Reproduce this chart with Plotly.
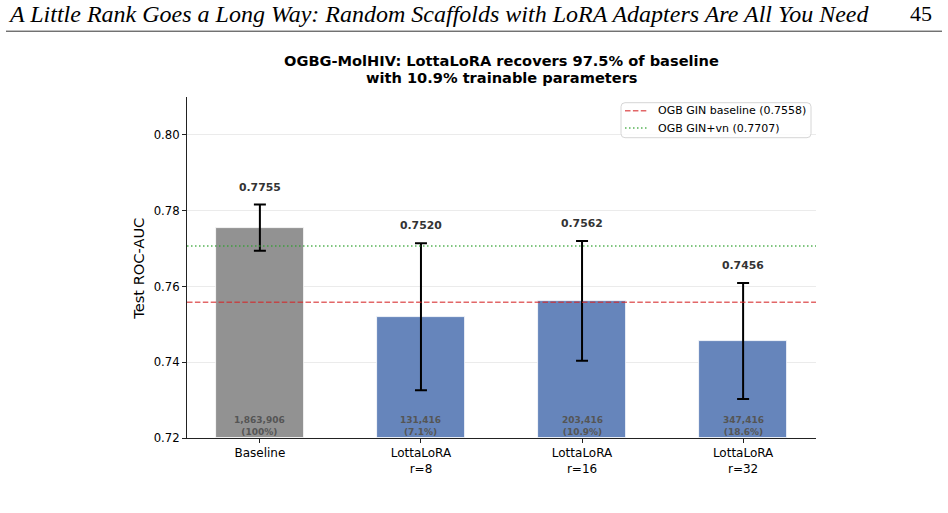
import plotly.graph_objects as go

# ---- data ----
categories = ["Baseline", "LottaLoRA<br>r=8", "LottaLoRA<br>r=16", "LottaLoRA<br>r=32"]
auc_mean = [0.7755, 0.7520, 0.7562, 0.7456]
auc_std = [0.0061, 0.0194, 0.0158, 0.0153]
param_counts = ["1,863,906", "131,416", "203,416", "347,416"]
param_pct = ["(100%)", "(7.1%)", "(10.9%)", "(18.6%)"]
bar_colors = ["#929292", "#6685bb", "#6685bb", "#6685bb"]
ref_names = ["OGB GIN baseline (0.7558)", "OGB GIN+vn (0.7707)"]
ref_values = [0.7558, 0.7707]
y_ticks = [0.72, 0.74, 0.76, 0.78, 0.80]

W, H = 948, 513
L, R, T, B = 187, 816, 97.3, 438.3


def px_x(px):
    return (px - L) / (R - L)


def px_y(py):
    return (B - py) / (B - T)


xs = list(range(len(categories)))
red = "rgba(214,39,40,0.7)"
green = "rgba(44,160,44,0.8)"
red_dash = "5.5px,2.4px"
green_dash = "1.5px,2.5px"

fig = go.Figure()
fig.add_trace(go.Bar(
    x=xs, y=[m - 0.72 for m in auc_mean], base=0.72, width=0.55,
    marker=dict(color=bar_colors, line=dict(color="white", width=0.8)),
    error_y=dict(type="data", array=auc_std, color="black", thickness=2, width=6),
    showlegend=False, hoverinfo="skip",
))

# legend box (drawn manually, matplotlib-like)
lx0, lx1, ly0, ly1, rr = px_x(621), px_x(811), px_y(103), px_y(138), 4
rxp = rr / (R - L)
ryp = rr / (B - T)
legend_path = (
    f"M {lx0 + rxp},{ly0} L {lx1 - rxp},{ly0} Q {lx1},{ly0} {lx1},{ly0 - ryp} "
    f"L {lx1},{ly1 + ryp} Q {lx1},{ly1} {lx1 - rxp},{ly1} "
    f"L {lx0 + rxp},{ly1} Q {lx0},{ly1} {lx0},{ly1 + ryp} "
    f"L {lx0},{ly0 - ryp} Q {lx0},{ly0} {lx0 + rxp},{ly0} Z"
)

legend_rows_y = [111, 128.3]
legend_styles = [(red, red_dash), (green, green_dash)]

shapes = [
    dict(type="line", xref="paper", yref="y", x0=0, x1=1, y0=ref_values[0], y1=ref_values[0],
         line=dict(color=red, width=1.5, dash=red_dash), layer="above"),
    dict(type="line", xref="paper", yref="y", x0=0, x1=1, y0=ref_values[1], y1=ref_values[1],
         line=dict(color=green, width=1.5, dash=green_dash), layer="above"),
    dict(type="path", xref="paper", yref="paper", path=legend_path,
         fillcolor="rgba(255,255,255,0.85)", line=dict(color="#d6d6d6", width=1), layer="above"),
    # page header rule
    dict(type="line", xref="paper", yref="paper", x0=px_x(6), x1=px_x(942), y0=px_y(31.5), y1=px_y(31.5),
         line=dict(color="#333333", width=1)),
]
for (c, d), yy in zip(legend_styles, legend_rows_y):
    shapes.append(dict(type="line", xref="paper", yref="paper", x0=px_x(625), x1=px_x(647),
                       y0=px_y(yy), y1=px_y(yy), line=dict(color=c, width=1.5, dash=d), layer="above"))

annotations = []
for name, yy in zip(ref_names, legend_rows_y):
    annotations.append(dict(x=px_x(656), y=px_y(yy), xref="paper", yref="paper", text=name,
                            showarrow=False, xanchor="left", yanchor="middle",
                            font=dict(family="DejaVu Sans", size=11, color="black")))

for i, (m, s) in enumerate(zip(auc_mean, auc_std)):
    annotations.append(dict(x=i, y=m + s, xref="x", yref="y", text=f"<b>{m:.4f}</b>",
                            showarrow=False, yanchor="bottom", yshift=9,
                            font=dict(family="DejaVu Sans", size=10.8, color="#333333")))
    annotations.append(dict(x=i, y=0.72, xref="x", yref="y",
                            text=f"<b>{param_counts[i]}<br>{param_pct[i]}</b>",
                            showarrow=False, yanchor="bottom", yshift=-1,
                            font=dict(family="DejaVu Sans", size=9, color="#555555")))

# title
annotations.append(dict(x=px_x(501.5), y=px_y(61), xref="paper", yref="paper",
                        text="<b>OGBG-MolHIV: LottaLoRA recovers 97.5% of baseline</b>",
                        showarrow=False, xanchor="center", yanchor="middle",
                        font=dict(family="DejaVu Sans", size=14.6, color="black")))
annotations.append(dict(x=px_x(501.5), y=px_y(77.5), xref="paper", yref="paper",
                        text="<b>with 10.9% trainable parameters</b>",
                        showarrow=False, xanchor="center", yanchor="middle",
                        font=dict(family="DejaVu Sans", size=14.6, color="black")))
# y axis title
annotations.append(dict(x=px_x(139), y=px_y(269), xref="paper", yref="paper",
                        text="Test ROC-AUC", textangle=-90, showarrow=False,
                        xanchor="center", yanchor="middle",
                        font=dict(family="DejaVu Sans", size=14.6, color="black")))
# page header
annotations.append(dict(x=px_x(6), y=px_y(14), xref="paper", yref="paper",
                        text="<i>A Little Rank Goes a Long Way: Random Scaffolds with LoRA Adapters Are All You Need</i>",
                        showarrow=False, xanchor="left", yanchor="middle",
                        font=dict(family="Liberation Serif", size=24, color="black")))
annotations.append(dict(x=px_x(934), y=px_y(14), xref="paper", yref="paper",
                        text="45", showarrow=False, xanchor="right", yanchor="middle",
                        font=dict(family="Liberation Serif", size=22, color="black")))

fig.update_layout(
    width=W, height=H,
    margin=dict(l=L, r=W - R, t=T, b=H - B, pad=0),
    paper_bgcolor="white", plot_bgcolor="white",
    font=dict(family="DejaVu Sans", color="black"),
    shapes=shapes, annotations=annotations,
    showlegend=False,
    xaxis=dict(range=[-0.4525, 3.4525], tickvals=xs, ticktext=categories,
               showline=True, linecolor="#222222", linewidth=1, ticks="outside", ticklen=4,
               tickcolor="#222222", showgrid=False, zeroline=False,
               tickfont=dict(family="DejaVu Sans", size=12, color="black")),
    yaxis=dict(range=[0.72, 0.81], tickvals=y_ticks, ticktext=[f"{v:.2f}" for v in y_ticks],
               showline=True, linecolor="#222222", linewidth=1, ticks="outside", ticklen=4,
               tickcolor="#222222", showgrid=True, gridcolor="#ebebeb", gridwidth=1,
               zeroline=False, tickfont=dict(family="DejaVu Sans", size=11.7, color="black")),
    bargap=0,
)

fig.write_html("out.html")
